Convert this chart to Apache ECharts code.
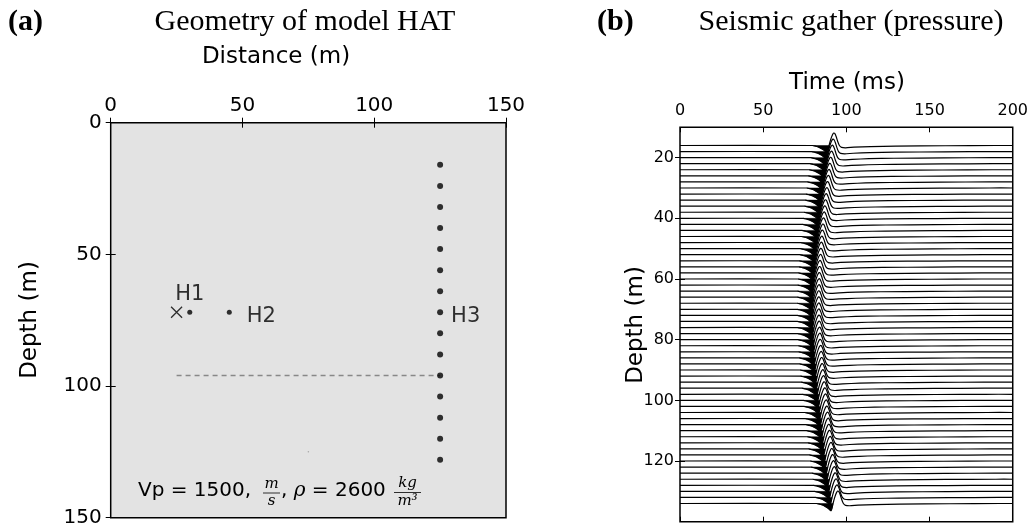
<!DOCTYPE html>
<html><head><meta charset="utf-8">
<script src="https://cdn.jsdelivr.net/npm/echarts@6/dist/echarts.min.js"></script>
<style>html,body{margin:0;padding:0;background:#fff}#c{width:1031px;height:531px}</style>
</head><body><div id="c"></div>
<script>
// ---------- Panel (a): geometry ----------
const distTicks = [0, 50, 100, 150];
const depthTicksA = [0, 50, 100, 150];
const receiverX = 125;
const receiverDepths = [16, 24, 32, 40, 48, 56, 64, 72, 80, 88, 96, 104, 112, 120, 128];
const sourcePos = [25, 72];          // cross
const hydroH1 = [30, 72];
const hydroH2 = [45, 72];
const dashedLine = [[25, 96], [125, 96]];
const strayDot = [75, 125];

// ---------- Panel (b): seismic gather ----------
const timeTicks = [0, 50, 100, 150, 200];
const depthTicksB = [20, 40, 60, 80, 100, 120];
const traceDepths = [16,18,20,22,24,26,28,30,32,34,36,38,40,42,44,46,48,50,52,54,56,58,60,62,64,66,68,70,72,74,76,78,80,82,84,86,88,90,92,94,96,98,100,102,104,106,108,110,112,114,116,118,120,122,124,126,128,130,132,134];
const arrivalTimes = [89.6,89.1,88.6,88.1,87.6,87.1,86.6,86.2,85.7,85.3,84.9,84.5,84.1,83.7,83.3,83.0,82.6,82.3,82.0,81.7,81.5,81.2,81.0,80.8,80.7,80.6,80.5,80.5,80.5,80.5,80.6,80.7,80.9,81.1,81.3,81.6,81.9,82.2,82.5,82.9,83.3,83.7,84.1,84.5,84.9,85.3,85.7,86.1,86.5,86.9,87.3,87.8,88.3,88.8,89.3,89.8,90.3,90.8,91.4,92.0];
// wavelet: time offset (ms) from the rising zero-crossing, deflection (m, upward positive)
const waveTau = [-10, -8, -6, -4.5, -3, -2, -1.2, -0.6, 0, 1.0, 2.0, 2.8, 3.5, 4.3, 5.2, 6.2, 7.5, 10, 15, 25, 40, 70, 100];
const waveAmp = [0, -0.25, -0.6, -1.05, -1.6, -2.1, -2.4, -1.5, 0, 2.0, 3.5, 4.1, 3.9, 2.9, 1.3, 0, -0.6, -0.75, -0.55, -0.35, -0.2, -0.08, 0];

const SANS = 'DejaVu Sans';

const chart = echarts.init(document.getElementById('c'), null, {renderer: 'canvas'});

function tickAxis(extra) {
  return Object.assign({
    type: 'value',
    axisLine: {show: false},
    splitLine: {show: false}
  }, extra);
}
function ticks(vals) {
  return {show: true, inside: true, length: 5, customValues: vals, lineStyle: {color: '#000', width: 1}};
}

const option = {
  animation: false,
  backgroundColor: '#fff',
  grid: [
    {left: 110.7, top: 122.7, width: 395.3, height: 395, show: true, backgroundColor: '#e3e3e3', borderColor: '#000', borderWidth: 1.5},
    {left: 680, top: 127.3, width: 333.3, height: 394.4, show: true, backgroundColor: '#fff', borderColor: '#000', borderWidth: 1.5}
  ],
  xAxis: [
    tickAxis({gridIndex: 0, position: 'top', min: 0, max: 150, interval: 50, axisTick: ticks(distTicks),
      axisLabel: {customValues: distTicks, fontSize: 20, fontFamily: SANS, color: '#000', margin: 7}}),
    tickAxis({gridIndex: 0, position: 'bottom', min: 0, max: 150, interval: 50, axisTick: ticks(distTicks),
      axisLabel: {show: false}}),
    tickAxis({gridIndex: 1, position: 'top', min: 0, max: 200, interval: 50, axisTick: ticks(timeTicks),
      axisLabel: {customValues: timeTicks, fontSize: 16, fontFamily: SANS, color: '#000', margin: 8}}),
    tickAxis({gridIndex: 1, position: 'bottom', min: 0, max: 200, interval: 50, axisTick: ticks(timeTicks),
      axisLabel: {show: false}})
  ],
  yAxis: [
    tickAxis({gridIndex: 0, position: 'left', inverse: true, min: 0, max: 150, interval: 50, axisTick: ticks(depthTicksA),
      axisLabel: {customValues: depthTicksA, fontSize: 20, fontFamily: SANS, color: '#000', margin: 9}}),
    tickAxis({gridIndex: 0, position: 'right', inverse: true, min: 0, max: 150, interval: 50, axisTick: ticks(depthTicksA),
      axisLabel: {show: false}}),
    tickAxis({gridIndex: 1, position: 'left', inverse: true, min: 10, max: 140, axisTick: ticks(depthTicksB),
      axisLabel: {customValues: depthTicksB, fontSize: 16, fontFamily: SANS, color: '#000', margin: 6}}),
    tickAxis({gridIndex: 1, position: 'right', inverse: true, min: 10, max: 140, axisTick: ticks(depthTicksB),
      axisLabel: {show: false}})
  ],
  series: [
    {
      type: 'line', xAxisIndex: 0, yAxisIndex: 0, data: dashedLine, symbol: 'none',
      lineStyle: {color: '#888', width: 1.5, type: [5, 4]}, silent: true, z: 2
    },
    {
      type: 'scatter', xAxisIndex: 0, yAxisIndex: 0, symbolSize: 1.5,
      itemStyle: {color: '#999'}, data: [strayDot], z: 2
    },
    {
      type: 'scatter', xAxisIndex: 0, yAxisIndex: 0, symbol: 'circle', symbolSize: 6,
      itemStyle: {color: '#000'}, z: 3,
      data: receiverDepths.map(d => d === 72 ? {value: [receiverX, d], label: {show: true, formatter: 'H3', position: 'right', distance: 8, offset: [0, 4]}} : [receiverX, d]),
      label: {show: false, fontSize: 21, fontFamily: SANS, color: '#000'}
    },
    {
      type: 'scatter', xAxisIndex: 0, yAxisIndex: 0, symbol: 'circle', symbolSize: 5,
      itemStyle: {color: '#000'}, z: 3,
      label: {show: true, fontSize: 21, fontFamily: SANS, color: '#000'},
      data: [
        {value: hydroH1, label: {formatter: 'H1', position: 'top', distance: 5}},
        {value: hydroH2, label: {formatter: 'H2', position: 'right', distance: 15, offset: [0, 4]}}
      ]
    },
    {
      type: 'scatter', xAxisIndex: 0, yAxisIndex: 0, z: 3,
      symbol: 'path://M0,0L10,10M10,0L0,10', symbolSize: 11,
      itemStyle: {color: 'none', borderColor: '#000', borderWidth: 1.3},
      data: [sourcePos]
    },
    {
      type: 'custom', xAxisIndex: 2, yAxisIndex: 2, clip: true, z: 3,
      encode: {x: 1, y: 0},
      data: traceDepths.map((d, i) => [d, arrivalTimes[i]]),
      renderItem: function (params, api) {
        const depth = api.value(0), t0 = api.value(1);
        const line = [api.coord([0, depth])];
        const fill = [];
        for (let k = 0; k < waveTau.length; k++) {
          const p = api.coord([t0 + waveTau[k], depth - waveAmp[k]]);
          line.push(p);
          if (waveTau[k] <= 0) fill.push(p);
        }
        line.push(api.coord([200, depth]));
        return {
          type: 'group',
          children: [
            {type: 'polygon', shape: {points: fill}, style: {fill: '#000', stroke: '#000', lineWidth: 0.5}},
            {type: 'polyline', shape: {points: line, smooth: 0.2}, style: {stroke: '#000', lineWidth: 1.2, fill: null}}
          ]
        };
      }
    }
  ],
  graphic: [
    {type: 'text', left: 8, top: 7, style: {text: '(a)', font: 'bold 30px "Liberation Serif"', fill: '#000'}},
    {type: 'text', x: 305, y: 22, style: {text: 'Geometry of model HAT', font: '30px "Liberation Serif"', fill: '#000', align: 'center', verticalAlign: 'middle'}},
    {type: 'text', x: 276, y: 57, style: {text: 'Distance (m)', font: '23px "DejaVu Sans"', fill: '#000', align: 'center', verticalAlign: 'middle'}},
    {type: 'text', x: 30, y: 320, rotation: Math.PI / 2, style: {text: 'Depth (m)', font: '23px "DejaVu Sans"', fill: '#000', align: 'center', verticalAlign: 'middle'}},
    {type: 'text', left: 597, top: 7, style: {text: '(b)', font: 'bold 30px "Liberation Serif"', fill: '#000'}},
    {type: 'text', x: 851, y: 22, style: {text: 'Seismic gather (pressure)', font: '30px "Liberation Serif"', fill: '#000', align: 'center', verticalAlign: 'middle'}},
    {type: 'text', x: 847, y: 83, style: {text: 'Time (ms)', font: '23px "DejaVu Sans"', fill: '#000', align: 'center', verticalAlign: 'middle'}},
    {type: 'text', x: 636, y: 325, rotation: Math.PI / 2, style: {text: 'Depth (m)', font: '23px "DejaVu Sans"', fill: '#000', align: 'center', verticalAlign: 'middle'}},
    // annotation: Vp = 1500, m/s, rho = 2600 kg/m^3
    {type: 'text', x: 138, y: 491, style: {text: 'Vp = 1500,', font: '20px "DejaVu Sans"', fill: '#000', verticalAlign: 'middle'}},
    {type: 'text', x: 271.5, y: 484, style: {text: 'm', font: 'italic 15px "DejaVu Serif"', fill: '#000', align: 'center', verticalAlign: 'middle'}},
    {type: 'line', shape: {x1: 263, y1: 493, x2: 280, y2: 493}, style: {stroke: '#000', lineWidth: 0.8}},
    {type: 'text', x: 271.5, y: 501, style: {text: 's', font: 'italic 15px "DejaVu Serif"', fill: '#000', align: 'center', verticalAlign: 'middle'}},
    {type: 'text', x: 281, y: 491, style: {
      text: '{a|, }{r|ρ}{a| = 2600}', verticalAlign: 'middle',
      rich: {a: {font: '20px "DejaVu Sans"', fill: '#000'}, r: {font: 'italic 20px "DejaVu Serif"', fill: '#000'}}
    }},
    {type: 'text', x: 407.5, y: 483, style: {text: 'kg', font: 'italic 15px "DejaVu Serif"', fill: '#000', align: 'center', verticalAlign: 'middle'}},
    {type: 'line', shape: {x1: 394, y1: 492.5, x2: 421, y2: 492.5}, style: {stroke: '#000', lineWidth: 0.8}},
    {type: 'text', x: 407.5, y: 501, style: {text: 'm³', font: 'italic 15px "DejaVu Serif"', fill: '#000', align: 'center', verticalAlign: 'middle'}}
  ]
};
chart.setOption(option);
</script>
</body></html>
